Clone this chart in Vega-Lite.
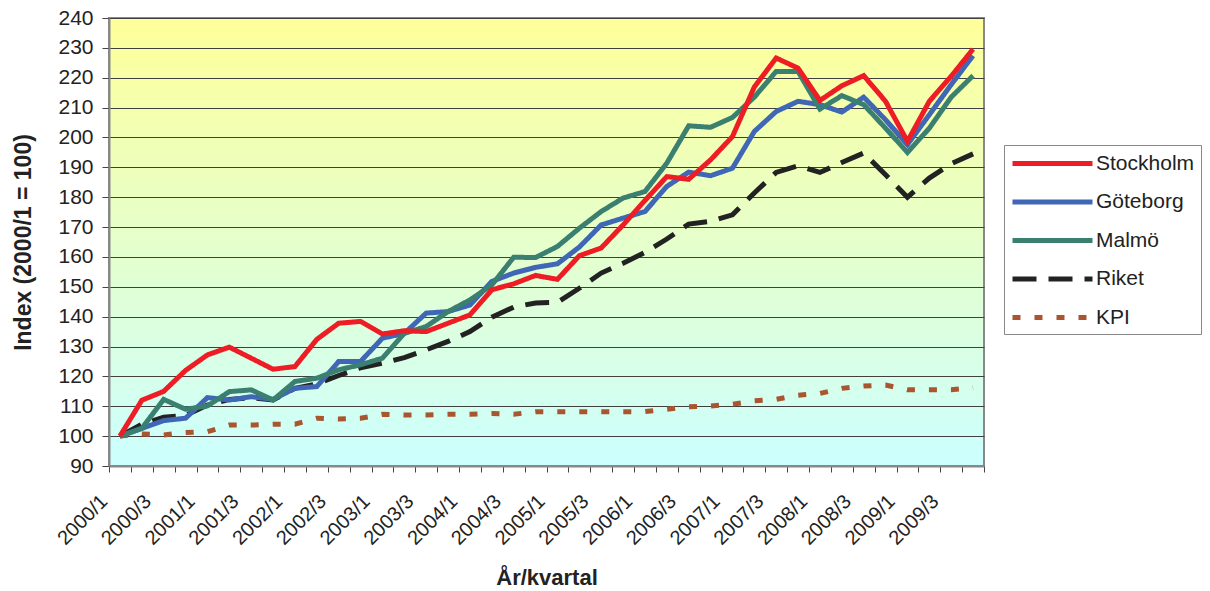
{
  "$schema": "https://vega.github.io/schema/vega-lite/v6.json",
  "width": 875,
  "height": 448,
  "autosize": "none",
  "padding": {"left": 109, "top": 18, "right": 226, "bottom": 125},
  "background": "white",
  "data": {"values": [
    {"q":"2000/1","Stockholm":100,"Göteborg":100,"Malmö":100,"Riket":100,"KPI":100},
    {"q":"2000/2","Stockholm":112,"Göteborg":102.6,"Malmö":102.6,"Riket":104,"KPI":100.7},
    {"q":"2000/3","Stockholm":115,"Göteborg":105.2,"Malmö":112.3,"Riket":106.3,"KPI":100.4},
    {"q":"2000/4","Stockholm":122,"Göteborg":106,"Malmö":109,"Riket":106.9,"KPI":101.2},
    {"q":"2001/1","Stockholm":127.2,"Göteborg":112.9,"Malmö":110.1,"Riket":110.4,"KPI":101.5},
    {"q":"2001/2","Stockholm":129.8,"Göteborg":112.1,"Malmö":114.9,"Riket":112.3,"KPI":103.7},
    {"q":"2001/3","Stockholm":126.1,"Göteborg":113.2,"Malmö":115.5,"Riket":112.9,"KPI":103.7},
    {"q":"2001/4","Stockholm":122.4,"Göteborg":112.3,"Malmö":112.1,"Riket":112.1,"KPI":104},
    {"q":"2002/1","Stockholm":123.3,"Göteborg":116,"Malmö":118.3,"Riket":116,"KPI":104},
    {"q":"2002/2","Stockholm":132.4,"Göteborg":116.6,"Malmö":119.4,"Riket":117.5,"KPI":106},
    {"q":"2002/3","Stockholm":137.8,"Göteborg":125,"Malmö":122.2,"Riket":120.3,"KPI":105.7},
    {"q":"2002/4","Stockholm":138.4,"Göteborg":125,"Malmö":123.9,"Riket":122.9,"KPI":106},
    {"q":"2003/1","Stockholm":134.2,"Göteborg":132.8,"Malmö":126.1,"Riket":124.4,"KPI":107.3},
    {"q":"2003/2","Stockholm":135.3,"Göteborg":134.4,"Malmö":134.4,"Riket":126.3,"KPI":107.1},
    {"q":"2003/3","Stockholm":135,"Göteborg":141.2,"Malmö":136.7,"Riket":128.9,"KPI":107.1},
    {"q":"2003/4","Stockholm":137.8,"Göteborg":141.7,"Malmö":141.7,"Riket":131.7,"KPI":107.3},
    {"q":"2004/1","Stockholm":140.6,"Göteborg":143.9,"Malmö":145.6,"Riket":135,"KPI":107.3},
    {"q":"2004/2","Stockholm":149,"Göteborg":151.8,"Malmö":150.6,"Riket":139.8,"KPI":107.6},
    {"q":"2004/3","Stockholm":151,"Göteborg":154.6,"Malmö":159.9,"Riket":143.2,"KPI":107.3},
    {"q":"2004/4","Stockholm":153.8,"Göteborg":156.5,"Malmö":159.8,"Riket":144.6,"KPI":108.2},
    {"q":"2005/1","Stockholm":152.5,"Göteborg":157.7,"Malmö":163.5,"Riket":144.8,"KPI":108.2},
    {"q":"2005/2","Stockholm":160.4,"Göteborg":163.3,"Malmö":169.6,"Riket":149.5,"KPI":108.2},
    {"q":"2005/3","Stockholm":163,"Göteborg":170.7,"Malmö":175.2,"Riket":154.6,"KPI":108.2},
    {"q":"2005/4","Stockholm":170.7,"Göteborg":173,"Malmö":179.7,"Riket":157.9,"KPI":108.2},
    {"q":"2006/1","Stockholm":178.9,"Göteborg":175.2,"Malmö":181.9,"Riket":161.5,"KPI":108.2},
    {"q":"2006/2","Stockholm":186.9,"Göteborg":183.6,"Malmö":191.4,"Riket":166,"KPI":109},
    {"q":"2006/3","Stockholm":186,"Göteborg":188.4,"Malmö":203.9,"Riket":171,"KPI":109.8},
    {"q":"2006/4","Stockholm":192.5,"Göteborg":187.2,"Malmö":203.4,"Riket":171.9,"KPI":110.1},
    {"q":"2007/1","Stockholm":200.3,"Göteborg":189.7,"Malmö":206.7,"Riket":174.1,"KPI":110.7},
    {"q":"2007/2","Stockholm":216.9,"Göteborg":202,"Malmö":213.5,"Riket":181.4,"KPI":111.8},
    {"q":"2007/3","Stockholm":226.6,"Göteborg":208.7,"Malmö":222.1,"Riket":188.3,"KPI":112.3},
    {"q":"2007/4","Stockholm":223.2,"Göteborg":212.1,"Malmö":222.1,"Riket":190.5,"KPI":113.7},
    {"q":"2008/1","Stockholm":212.4,"Göteborg":211,"Malmö":209.5,"Riket":188.3,"KPI":114.3},
    {"q":"2008/2","Stockholm":217.3,"Göteborg":208.5,"Malmö":214,"Riket":191.6,"KPI":116},
    {"q":"2008/3","Stockholm":220.7,"Göteborg":213.5,"Malmö":211,"Riket":194.8,"KPI":116.8},
    {"q":"2008/4","Stockholm":212.1,"Göteborg":205.9,"Malmö":203.1,"Riket":187.5,"KPI":117.1},
    {"q":"2009/1","Stockholm":198.7,"Göteborg":197.6,"Malmö":195,"Riket":180,"KPI":115.5},
    {"q":"2009/2","Stockholm":212.1,"Göteborg":207.6,"Malmö":203.1,"Riket":186.4,"KPI":115.5},
    {"q":"2009/3","Stockholm":220.5,"Göteborg":217.7,"Malmö":213.5,"Riket":191.2,"KPI":115.5},
    {"q":"2009/4","Stockholm":229.6,"Göteborg":227.4,"Malmö":220.7,"Riket":194.5,"KPI":116.2}
  ]},
  "transform": [{"fold": ["KPI","Riket","Göteborg","Malmö","Stockholm"], "as": ["s","v"]}],
  "mark": {"type": "line", "strokeWidth": 5, "strokeCap": "butt", "strokeJoin": "miter"},
  "encoding": {
    "x": {
      "field": "q", "type": "ordinal", "sort": null, "bandPosition": 0.5,
      "scale": {"type": "band", "paddingInner": 0, "paddingOuter": 0},
      "axis": {
        "title": "År/kvartal", "titleFont": "Liberation Sans", "titleFontSize": 22, "titleFontWeight": "bold",
        "titleColor": "#222", "titlePadding": 19,
        "labelAngle": -45, "labelAlign": "right", "labelBaseline": "middle",
        "labelFont": "Liberation Sans", "labelFontSize": 20, "labelColor": "#222",
        "labelExpr": "(substring(datum.label,5)=='1'||substring(datum.label,5)=='3')?datum.label:''",
        "labelOverlap": false, "labelBound": false, "labelOffset": -16, "labelPadding": 26,
        "tickBand": "extent", "tickSize": 6, "tickColor": "#444", "domainColor": "#888", "domainWidth": 2,
        "grid": false
      }
    },
    "y": {
      "field": "v", "type": "quantitative",
      "scale": {"domain": [90, 240], "nice": false, "zero": false},
      "axis": {
        "title": "Index (2000/1 = 100)", "titleFont": "Liberation Sans", "titleFontSize": 23, "titleFontWeight": "bold",
        "titleColor": "#222", "titlePadding": 22,
        "values": [90,100,110,120,130,140,150,160,170,180,190,200,210,220,230,240],
        "labelFont": "Liberation Sans", "labelFontSize": 21, "labelColor": "#222", "labelPadding": 9,
        "tickSize": 7, "tickColor": "#444", "domainColor": "#888", "domainWidth": 2,
        "grid": true, "gridColor": "#404040", "gridWidth": 1
      }
    },
    "color": {
      "field": "s", "type": "nominal",
      "scale": {"domain": ["Stockholm","Göteborg","Malmö","Riket","KPI"], "range": ["#EE1C25","#3F67B5","#3A7F6F","#222222","#A85530"]},
      "legend": {
        "orient": "none", "legendX": 895, "legendY": 127, "title": null,
        "strokeColor": "#888", "fillColor": "white", "padding": 6,
        "symbolType": "M-4,0H4", "symbolSize": 400, "symbolStrokeWidth": 5, "symbolOffset": 30,
        "labelFont": "Liberation Sans", "labelFontSize": 21, "labelColor": "#222", "labelOffset": 31,
        "rowPadding": 15.5
      }
    },
    "strokeDash": {
      "field": "s", "type": "nominal",
      "scale": {"domain": ["Stockholm","Göteborg","Malmö","Riket","KPI"], "range": [[1,0],[1,0],[1,0],[24,12],[8,14]]},
      "legend": {
        "orient": "none", "legendX": 895, "legendY": 127, "title": null,
        "strokeColor": "#888", "fillColor": "white", "padding": 6,
        "symbolType": "M-4,0H4", "symbolSize": 400, "symbolStrokeWidth": 5, "symbolOffset": 30,
        "labelFont": "Liberation Sans", "labelFontSize": 21, "labelColor": "#222", "labelOffset": 31,
        "rowPadding": 15.5
      }
    }
  },
  "config": {
    "view": {
      "fill": {"gradient": "linear", "x1": 0, "y1": 0, "x2": 0, "y2": 1,
        "stops": [{"offset": 0, "color": "#FFFF99"}, {"offset": 1, "color": "#CCFFFF"}]},
      "stroke": "#888", "strokeWidth": 2
    }
  }
}
